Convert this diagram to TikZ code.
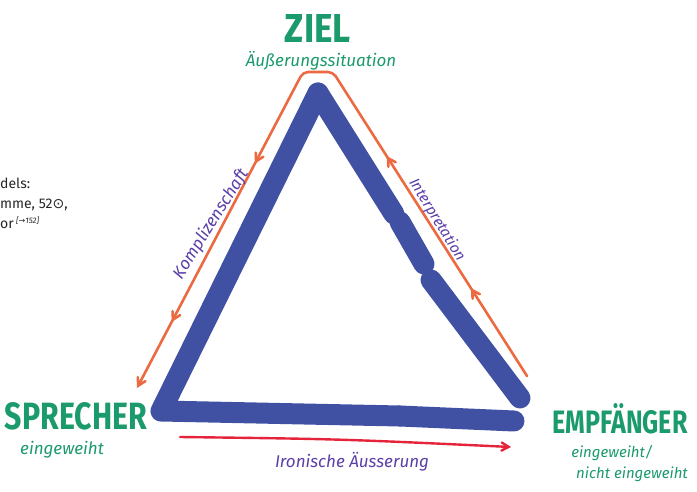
\documentclass[tikz,border=0pt]{standalone}
\usepackage{fontspec}
\setmainfont{Fira Sans}
\newfontfamily\symfont{DejaVu Sans}
\usepackage{tikz}
\usetikzlibrary{arrows,decorations.markings}
\definecolor{zielgreen}{HTML}{1B9A6C}
\definecolor{sideblue}{HTML}{4051A3}
\definecolor{frameorange}{HTML}{EC6A42}
\definecolor{ironyred}{HTML}{E5243B}
\definecolor{notepurple}{HTML}{5B3FA8}

\begin{document}
\begin{tikzpicture}[x=1pt,y=-1pt,
	side/.style={draw=sideblue,line width=21pt,line cap=round,line join=round},
	frame/.style={draw=frameorange,line width=2.6pt,line cap=round,rounded corners=5pt},
	corner/.style={text=zielgreen,font=\bfseries,inner sep=0pt},
	sub/.style={text=zielgreen,font=\itshape\fontsize{17}{19}\selectfont,inner sep=0pt},
	note/.style={text=notepurple,font=\itshape\fontsize{17}{19}\selectfont,inner sep=0pt},
	midarrow/.style={postaction={decorate,decoration={markings,
		mark=at position #1 with {\arrow[frameorange,line width=2.6pt]{angle 60}}}}}]
	\useasboundingbox (0,0) rectangle (697,491);

	\node[anchor=north west,align=left,inner sep=0pt,text=black!85,
		font=\fontsize{14}{20}\selectfont] (ref) at (0,178)
		{dels:\\mme, 52{\symfont ⊙},\\or\,{\itshape\fontsize{8}{8}\selectfont\raisebox{5pt}{[{\symfont →}152]}}};

	\node[corner] (ziel) at (318,28) {\resizebox{66pt}{28pt}{ZIEL}};
	\node[sub] (zielsub) at (321,61) {Äußerungssituation};
	\node[corner] (sprecher) at (76,416) {\resizebox{142pt}{27pt}{SPRECHER}};
	\node[sub] (sprechersub) at (62,450) {eingeweiht};
	\node[corner] (empf) at (620,419) {\resizebox{135pt}{30pt}{EMPFÄNGER}};
	\node[sub,font=\itshape\fontsize{15}{17}\selectfont] (empfsub) at (612,453) {eingeweiht/};
	\node[sub,font=\itshape\fontsize{15}{17}\selectfont] (empfsub2) at (632,474) {nicht eingeweiht};

	\coordinate (top) at (318,93);
	\coordinate (left) at (161,411);
	\coordinate (right) at (520,398);
	\coordinate (mid) at (400,416);
	\coordinate (base) at (514,421);
	\coordinate (gapa) at (394,214);
	\coordinate (gapb) at (400,222);
	\coordinate (gapc) at (424,264);
	\coordinate (gapd) at (431,280);

	\draw[side] (top) -- (left) -- (mid);
	\draw[side] (mid) -- (base);
	\draw[side] (top) -- (gapa);
	\draw[side] (gapb) -- (gapc);
	\draw[side] (gapd) -- (right);

	\coordinate (o1) at (527,376);
	\coordinate (o2) at (333,72);
	\coordinate (o3) at (303,72);
	\coordinate (o4) at (137,388);
	\draw[frame,-angle 60,midarrow=0.14,midarrow=0.35,midarrow=0.66,midarrow=0.9]
		(o1) -- (o2) -- (o3) -- (o4);

	\coordinate (r1) at (180,437);
	\coordinate (r2) at (511,447);
	\draw[ironyred,line width=2.4pt,line cap=round,-angle 60] (r1) .. controls (340,439) .. (r2);

	\node[note] (irony) at (352,462) {Ironische Äusserung};
	\node[note,rotate=58] (kompl) at (211,224) {Komplizenschaft};
	\node[note,rotate=-58.5,font=\itshape\fontsize{15}{17}\selectfont] (interp) at (437,220) {Interpretation};
\end{tikzpicture}
\end{document}
